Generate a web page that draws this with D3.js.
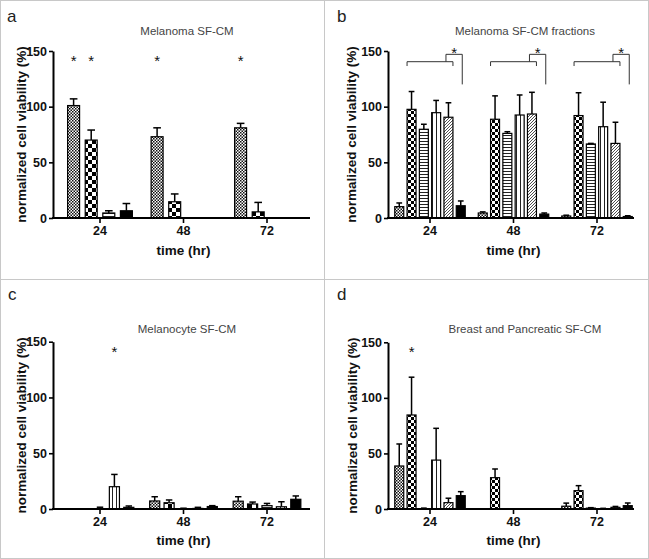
<!DOCTYPE html>
<html><head><meta charset="utf-8">
<script src="https://cdn.jsdelivr.net/npm/d3@7"></script>
<style>
html,body{margin:0;padding:0;background:#fff;}
svg{display:block;font-family:"Liberation Sans",Arial,Helvetica,sans-serif;}
</style></head><body>
<svg id="chart" width="649" height="559"></svg>
<script>
// ---------------- data ----------------
const timePoints = ["24", "48", "72"];
const yTickValues = [0, 50, 100, 150];
const panelLetters = ["a", "b", "c", "d"];
const panelTitles = ["Melanoma SF-CM", "Melanoma SF-CM fractions", "Melanocyte SF-CM", "Breast and Pancreatic SF-CM"];
const yAxisTitle = "normalized cell viability (%)";
const xAxisTitle = "time (hr)";

// panel a (rows = time points, columns = series)
const seriesA = ["crosshatch", "checker", "hstripe", "black"];
const meansA = [[101, 70, 4.5, 6.5], [73, 14.6, 0, 0], [81, 5.5, 0, 0]];
const errsA  = [[6, 9, 2, 6.5], [8, 7, 0, 0], [4, 8.5, 0, 0]];
const starsA = [[0, 0], [0, 1], [1, 0], [2, 0]];

// panel b
const seriesB = ["crosshatch", "checker3", "hstripe", "vstripe", "diag", "black"];
const meansB = [[10.2, 97.6, 79.7, 94.6, 90.5, 11], [4.5, 88.7, 76, 92.5, 93.4, 3.5], [1.8, 92, 66.5, 82, 67, 1.3]];
const errsB  = [[3.3, 16, 4.5, 11, 13, 4.3], [1, 21, 1.5, 18, 19.5, 1], [0.7, 20.5, 0.5, 22, 19, 0.7]];
const bracketsB = [0, 1, 2];

// panel c
const seriesC = ["crosshatch", "checker", "hstripe", "vstripe", "black"];
const meansC = [[0, 0, 0.3, 20, 1.5], [7.2, 5.6, 0.2, 0.5, 2.2], [7, 4.5, 3, 2, 8.7]];
const errsC  = [[0, 0, 1.3, 11, 1.2], [3.8, 2.5, 0.5, 1, 0.8], [4, 1.7, 2, 4.5, 3]];
const starsC = [[0, 3]];

// panel d
const seriesD = ["crosshatch", "checker3", "hstripe", "vstripe", "diag", "black"];
const meansD = [[38.7, 84.6, 0.3, 44, 5.7, 12], [0, 28.2, 0, 0, 0, 0], [2.5, 16.5, 0.8, 0.3, 1.5, 3]];
const errsD  = [[19.8, 34, 0.5, 28.6, 4, 3.6], [0, 7.8, 0, 0, 0, 0], [2.8, 4.5, 0.4, 0.3, 0.8, 2.4]];
const starsD = [[0, 1]];

// ---------------- layout ----------------
const svg = d3.select("#chart");
const defs = svg.append("defs");

function pat(id, w, h, draw) {
  const p = defs.append("pattern").attr("id", id).attr("patternUnits", "userSpaceOnUse")
    .attr("width", w).attr("height", h);
  p.append("rect").attr("width", w).attr("height", h).attr("fill", "#fff");
  draw(p);
}
pat("crosshatch", 3, 3, p => {
  p.append("rect").attr("x", 0).attr("y", 0).attr("width", 1.5).attr("height", 1.5).attr("fill", "#111");
  p.append("rect").attr("x", 1.5).attr("y", 1.5).attr("width", 1.5).attr("height", 1.5).attr("fill", "#111");
});
pat("checker", 8, 8, p => {
  p.append("rect").attr("x", 0).attr("y", 0).attr("width", 4).attr("height", 4).attr("fill", "#000");
  p.append("rect").attr("x", 4).attr("y", 4).attr("width", 4).attr("height", 4).attr("fill", "#000");
});
pat("checker3", 6, 6, p => {
  p.append("rect").attr("x", 0).attr("y", 0).attr("width", 3).attr("height", 3).attr("fill", "#000");
  p.append("rect").attr("x", 3).attr("y", 3).attr("width", 3).attr("height", 3).attr("fill", "#000");
});
pat("hstripe", 4, 3, p => {
  p.append("rect").attr("x", 0).attr("y", 0).attr("width", 4).attr("height", 1).attr("fill", "#222");
});
pat("vstripe", 4, 4, p => {
  p.append("rect").attr("x", 0).attr("y", 0).attr("width", 1).attr("height", 4).attr("fill", "#222");
});
pat("diag", 3, 3, p => {
  p.append("path").attr("d", "M-1,1 L1,-1 M0,3 L3,0 M2,4 L4,2")
    .attr("stroke", "#222").attr("stroke-width", 0.8);
});
const fillFor = s => s === "black" ? "#000" : `url(#${s})`;

// frame
svg.append("rect").attr("x", 0.5).attr("y", 0.5).attr("width", 648).attr("height", 558)
  .attr("fill", "none").attr("stroke", "#c8c8c8");
svg.append("line").attr("x1", 324.5).attr("x2", 324.5).attr("y1", 0).attr("y2", 559).attr("stroke", "#c8c8c8");
svg.append("line").attr("x1", 0).attr("x2", 649).attr("y1", 279.5).attr("y2", 279.5).attr("stroke", "#c8c8c8");

const panels = [
  {series: seriesA, means: meansA, errs: errsA, stars: starsA, yAxisX: 53, yTop: 51, yZero: 218,
   band: [58.25, 308.75], axisEnd: 310, slot: 17.6, pad: 0.32, yLabelX: 21, titleX: 187, titleY: 35,
   letterX: 7, letterY: 22, xTitleY: 255},
  {series: seriesB, means: meansB, errs: errsB, stars: [], yAxisX: 388, yTop: 51, yZero: 218,
   band: [388.25, 638.75], axisEnd: 634, slot: 12.3, pad: 0.27, yLabelX: 351, titleX: 525, titleY: 35,
   letterX: 337, letterY: 22, xTitleY: 255, brackets: bracketsB},
  {series: seriesC, means: meansC, errs: errsC, stars: starsC, yAxisX: 53, yTop: 341.7, yZero: 509,
   band: [58.25, 308.75], axisEnd: 310, slot: 14.4, pad: 0.3, yLabelX: 21, titleX: 187, titleY: 333,
   letterX: 8, letterY: 300, xTitleY: 545},
  {series: seriesD, means: meansD, errs: errsD, stars: starsD, yAxisX: 388, yTop: 342.3, yZero: 509,
   band: [388.25, 638.75], axisEnd: 634, slot: 12.3, pad: 0.27, yLabelX: 352, titleX: 525, titleY: 333,
   letterX: 337, letterY: 300, xTitleY: 545}
];

panels.forEach((P, pi) => {
  const g = svg.append("g");
  const y = d3.scaleLinear().domain([0, 150]).range([P.yZero, P.yTop]);
  const x = d3.scaleBand().domain(timePoints).range(P.band).padding(0);
  const n = P.series.length;
  const w = n * P.slot;
  const xs = d3.scaleBand().domain(d3.range(n)).range([-w / 2, w / 2])
    .paddingInner(P.pad).paddingOuter(P.pad / 2);
  const bw = xs.bandwidth();
  const cx = (gi, si) => x(timePoints[gi]) + x.bandwidth() / 2 + xs(si) + bw / 2;

  // letter, title
  g.append("text").attr("x", P.letterX).attr("y", P.letterY).attr("font-size", 17)
    .attr("fill", "#222").text(panelLetters[pi]);
  g.append("text").attr("x", P.titleX).attr("y", P.titleY).attr("text-anchor", "middle")
    .attr("font-size", 11.5).attr("fill", "#444").text(panelTitles[pi]);

  const cells = [];
  P.means.forEach((row, gi) => row.forEach((v, si) => cells.push({gi, si, v, e: P.errs[gi][si], s: P.series[si]})));

  // error bars
  const eb = cells.filter(d => d.e > 0);
  g.selectAll(".eline" + pi).data(eb).join("line")
    .attr("x1", d => cx(d.gi, d.si)).attr("x2", d => cx(d.gi, d.si))
    .attr("y1", d => y(d.v)).attr("y2", d => y(d.v + d.e))
    .attr("stroke", "#000").attr("stroke-width", 1.5);
  g.selectAll(".ecap" + pi).data(eb).join("line")
    .attr("x1", d => cx(d.gi, d.si) - bw * 0.32).attr("x2", d => cx(d.gi, d.si) + bw * 0.32)
    .attr("y1", d => y(d.v + d.e)).attr("y2", d => y(d.v + d.e))
    .attr("stroke", "#000").attr("stroke-width", 1.5);

  // bars
  g.selectAll(".bar" + pi).data(cells.filter(d => d.v > 0)).join("rect")
    .attr("x", d => cx(d.gi, d.si) - bw / 2)
    .attr("y", d => y(d.v))
    .attr("width", bw)
    .attr("height", d => y(0) - y(d.v))
    .attr("fill", d => fillFor(d.s))
    .attr("stroke", "#000").attr("stroke-width", 1.2);

  // axes
  const ya = g.append("g").attr("transform", `translate(${P.yAxisX},0)`)
    .call(d3.axisLeft(y).tickValues(yTickValues).tickSize(4).tickPadding(2).tickSizeOuter(0));
  ya.select(".domain").attr("stroke", "#000").attr("stroke-width", 2);
  ya.selectAll(".tick line").attr("stroke", "#000").attr("stroke-width", 1.6);
  ya.selectAll(".tick text").attr("font-size", 12.5).attr("font-weight", "bold")
    .attr("fill", "#111").attr("font-family", "Liberation Sans, Arial, sans-serif");

  const xa = g.append("g").attr("transform", `translate(0,${P.yZero})`)
    .call(d3.axisBottom(x).tickSize(5).tickPadding(3).tickSizeOuter(0));
  xa.select(".domain").remove();
  xa.selectAll(".tick line").attr("stroke", "#000").attr("stroke-width", 1.6);
  xa.selectAll(".tick text").attr("font-size", 12.5).attr("font-weight", "bold")
    .attr("fill", "#111").attr("font-family", "Liberation Sans, Arial, sans-serif");
  g.append("line").attr("x1", P.yAxisX - 1).attr("x2", P.axisEnd)
    .attr("y1", P.yZero).attr("y2", P.yZero).attr("stroke", "#000").attr("stroke-width", 2);

  // axis titles
  g.append("text").attr("transform", `translate(${P.yLabelX},${(P.yTop + P.yZero) / 2}) rotate(-90)`)
    .attr("text-anchor", "middle").attr("dy", "0.35em").attr("font-size", 13.5)
    .attr("font-weight", "bold").attr("fill", "#111").text(yAxisTitle);
  g.append("text").attr("x", x("48") + x.bandwidth() / 2).attr("y", P.xTitleY)
    .attr("text-anchor", "middle").attr("font-size", 13.5).attr("font-weight", "bold")
    .attr("fill", "#111").text(xAxisTitle);

  // asterisks
  g.selectAll(".star" + pi).data(P.stars).join("text")
    .attr("x", d => cx(d[0], d[1])).attr("y", y(136.5))
    .attr("text-anchor", "middle").attr("font-size", 15).attr("fill", "#111").text("*");

  // brackets (panel b)
  if (P.brackets) {
    P.brackets.forEach(gi => {
      const left = cx(gi, 1) - bw / 2, right = cx(gi, 4) + bw / 2;
      const riser = cx(gi, 4) - bw / 2 + 2, drop = cx(gi, 5) + 1.5;
      const yb = y(140.4), yt = y(136.5), yr = y(147), yd = y(120);
      g.append("path")
        .attr("d", `M${left},${yt} L${left},${yb} L${right},${yb} L${right},${yt}`)
        .attr("fill", "none").attr("stroke", "#333").attr("stroke-width", 1);
      g.append("path")
        .attr("d", `M${riser},${yb} L${riser},${yr} L${drop},${yr} L${drop},${yd}`)
        .attr("fill", "none").attr("stroke", "#333").attr("stroke-width", 1);
      g.append("text").attr("x", (riser + drop) / 2).attr("y", y(143.8))
        .attr("text-anchor", "middle").attr("font-size", 15).attr("fill", "#111").text("*");
    });
  }
});
</script>
</body></html>
